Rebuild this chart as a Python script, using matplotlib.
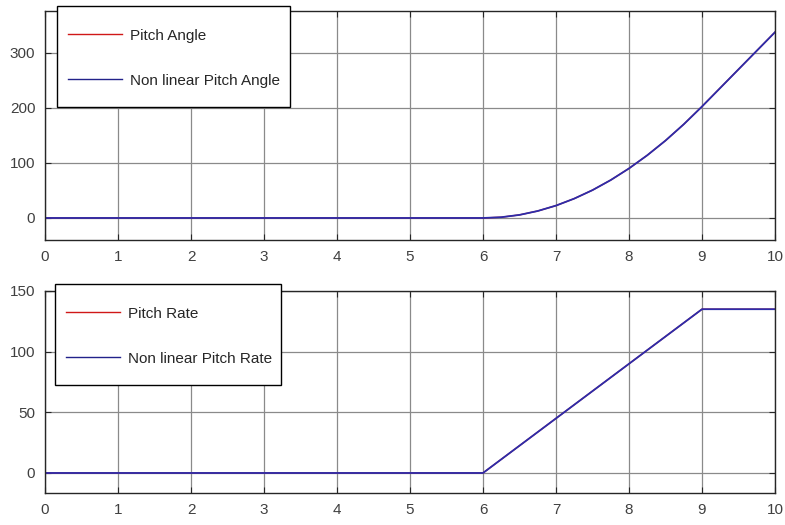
import matplotlib
matplotlib.use("Agg")
import matplotlib.pyplot as plt
from matplotlib.patches import Rectangle
from matplotlib.lines import Line2D

# Scope traces (time in s)
t_angle = [0, 1, 2, 3, 4, 5, 6, 6.25, 6.5, 6.75, 7, 7.25, 7.5, 7.75, 8,
           8.25, 8.5, 8.75, 9, 9.5, 10]
pitch_angle = [0, 0, 0, 0, 0, 0, 0, 1.4, 5.6, 12.7, 22.5, 35.2, 50.6, 68.9, 90,
               113.9, 140.6, 170.2, 202.5, 270, 337.5]
nl_pitch_angle = pitch_angle

t_rate = [0, 6, 9, 10]
pitch_rate = [0, 0, 135, 135]
nl_pitch_rate = pitch_rate

x_ticks = list(range(0, 11))
angle_ticks = [0, 100, 200, 300]
rate_ticks = [0, 50, 100, 150]
angle_labels = ['Pitch Angle', 'Non linear Pitch Angle']
rate_labels = ['Pitch Rate', 'Non linear Pitch Rate']

plt.rcParams['font.family'] = ['Liberation Sans', 'DejaVu Sans']

W, H = 785, 525
fig = plt.figure(figsize=(W / 100, H / 100), dpi=100)
ax1 = fig.add_axes([45 / W, 1 - 240 / H, 730 / W, 229 / H])
ax2 = fig.add_axes([45 / W, 1 - 493 / H, 730 / W, 202 / H])

red = '#d01818'
blue = '#2c2caa'


def style(ax, yticks, ylim):
    ax.set_xlim(0, 10)
    ax.set_ylim(*ylim)
    ax.set_xticks(x_ticks)
    ax.set_yticks(yticks)
    ax.grid(True, color='#8a8a8a', linewidth=0.9)
    ax.set_axisbelow(True)
    ax.tick_params(direction='in', length=4, width=0.8, colors='#262626',
                   labelcolor='#404040', labelsize=11, top=True, right=True,
                   pad=7)
    for s in ax.spines.values():
        s.set_color('#262626')
        s.set_linewidth(1.0)


def scope_key(left, top, right, labels):
    # MATLAB-style legend box, laid out in pixel units of the figure
    fx = lambda px: px / W
    fy = lambda py: 1 - py / H
    fig.add_artist(Rectangle((fx(left), fy(top + 101)), fx(right - left),
                             101 / H, transform=fig.transFigure,
                             facecolor='white', edgecolor='black',
                             linewidth=1.0, zorder=5))
    for i, (lab, col) in enumerate(zip(labels, [red, '#22228a'])):
        y = top + 28 + 45 * i
        fig.add_artist(Line2D([fx(left + 11), fx(left + 65)], [fy(y), fy(y)],
                              transform=fig.transFigure, color=col,
                              linewidth=1.0, zorder=6))
        fig.text(fx(left + 73), fy(y + 2), lab, fontsize=11, color='#262626',
                 va='center', ha='left', zorder=6)


ax1.plot(t_angle, pitch_angle, color=red, linewidth=1.0, label=angle_labels[0])
ax1.plot(t_angle, nl_pitch_angle, color=blue, linewidth=1.3,
         label=angle_labels[1])
style(ax1, angle_ticks, (-40, 376))

ax2.plot(t_rate, pitch_rate, color=red, linewidth=1.0, label=rate_labels[0])
ax2.plot(t_rate, nl_pitch_rate, color=blue, linewidth=1.3,
         label=rate_labels[1])
style(ax2, rate_ticks, (-16.5, 150))

scope_key(57, 6, 290, angle_labels)
scope_key(55, 284, 281, rate_labels)

fig.savefig('out.png', dpi=100)
